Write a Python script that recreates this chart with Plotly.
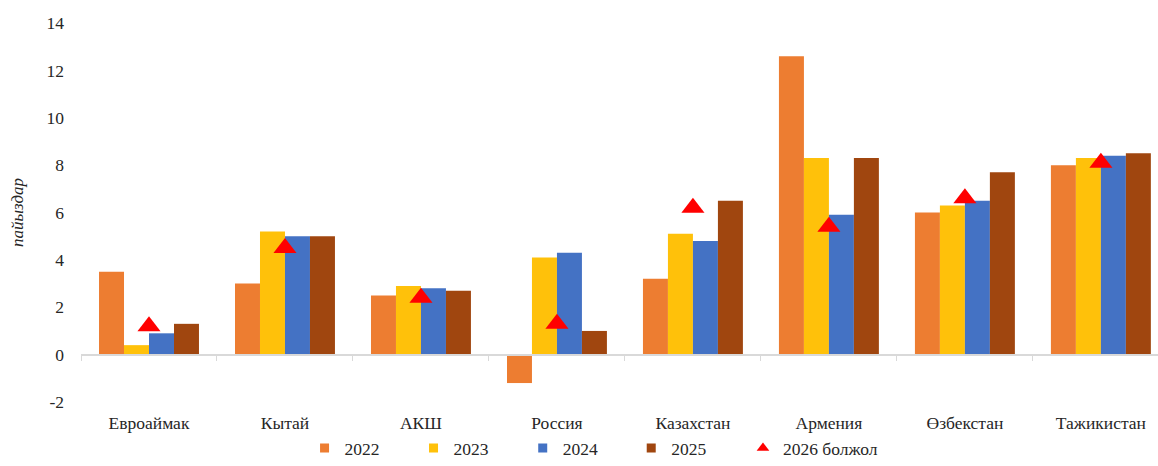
import plotly.graph_objects as go

categories = ["Евроаймак", "Кытай", "АКШ", "Россия", "Казахстан", "Армения", "Өзбекстан", "Тажикистан"]
years = ["2022", "2023", "2024", "2025"]
v2022 = [3.5, 3.0, 2.5, -1.2, 3.2, 12.6, 6.0, 8.0]
v2023 = [0.4, 5.2, 2.9, 4.1, 5.1, 8.3, 6.3, 8.3]
v2024 = [0.9, 5.0, 2.8, 4.3, 4.8, 5.9, 6.5, 8.4]
v2025 = [1.3, 5.0, 2.7, 1.0, 6.5, 8.3, 7.7, 8.5]
forecast_2026 = [1.2, 4.5, 2.4, 1.3, 6.2, 5.4, 6.6, 8.1]
forecast_name = "2026 болжол"
y_title = "пайыздар"
y_ticks = [-2, 0, 2, 4, 6, 8, 10, 12, 14]
y_tick_labels = ["-2", "0", "2", "4", "6", "8", "10", "12", "14"]

series = [v2022, v2023, v2024, v2025]
colors = ["#ED7D31", "#FFC10A", "#4472C4", "#A0460F"]

FONT = "Liberation Serif"
TXT = "#262626"
FS = 17.5


def font(size=FS, **kw):
    return dict(family=FONT, size=size, color=TXT, **kw)


fig = go.Figure()

for name, vals, col in zip(years, series, colors):
    fig.add_trace(go.Bar(
        x=categories, y=vals, name=name, marker_color=col,
        marker_line_width=0, showlegend=False,
    ))

fig.add_trace(go.Scatter(
    x=categories, y=forecast_2026, name=forecast_name, mode="markers",
    marker=dict(symbol="triangle-up", size=20, color="#FF0000"),
    showlegend=False,
))

# one small legend per key, laid out along the bottom
legend_ids = ["legend", "legend2", "legend3", "legend4", "legend5"]
legend_x = [0.2630, 0.3571, 0.4514, 0.5451, 0.6416]

for name, col, lid in zip(years, colors, legend_ids):
    fig.add_trace(go.Scatter(
        x=[None], y=[None], name=name, mode="markers",
        marker=dict(symbol="square", size=9, color=col), legend=lid,
    ))
fig.add_trace(go.Scatter(
    x=[None], y=[None], name=forecast_name, mode="markers",
    marker=dict(symbol="triangle-up", size=11, color="#FF0000"), legend=legend_ids[-1],
))

# axis line at zero with ticks between categories
fig.add_trace(go.Bar(
    x=categories, y=[0] * len(categories), xaxis="x2", yaxis="y",
    showlegend=False, hoverinfo="skip", marker_color="rgba(0,0,0,0)",
))

x_range = [-0.5, 7.42]
y_range = [-2, 14]

fig.update_layout(
    width=1158, height=466,
    margin=dict(l=81, r=0, t=23, b=64, autoexpand=False),
    paper_bgcolor="white", plot_bgcolor="white",
    font=font(),
    barmode="group", bargap=0.265, bargroupgap=0,
    xaxis=dict(
        type="category", categoryarray=categories, range=x_range,
        showline=False, showgrid=False, zeroline=False, ticks="",
        tickfont=font(), ticklabelstandoff=8, automargin=False,
    ),
    xaxis2=dict(
        type="category", categoryarray=categories, range=x_range,
        overlaying="x", anchor="free",
        position=(0 - y_range[0]) / (y_range[1] - y_range[0]),
        showline=True, linecolor="#D9D9D9", linewidth=1.5,
        ticks="outside", tickson="boundaries", ticklen=6, tickcolor="#D9D9D9",
        showticklabels=False, showgrid=False, zeroline=False, automargin=False,
    ),
    yaxis=dict(
        range=y_range, tickvals=y_ticks, ticktext=y_tick_labels,
        showgrid=False, zeroline=False, automargin=False,
        showline=False, ticks="", ticklabelstandoff=16,
        tickfont=font(),
        title=dict(text=y_title, font=font(size=17, style="italic"), standoff=18),
    ),
)

for lid, lx in zip(legend_ids, legend_x):
    fig.update_layout({lid: dict(
        orientation="h", xref="container", yref="container",
        x=lx, y=0.0, xanchor="left", yanchor="bottom",
        font=font(), bgcolor="rgba(0,0,0,0)",
    )})

fig.write_html("out.html")
